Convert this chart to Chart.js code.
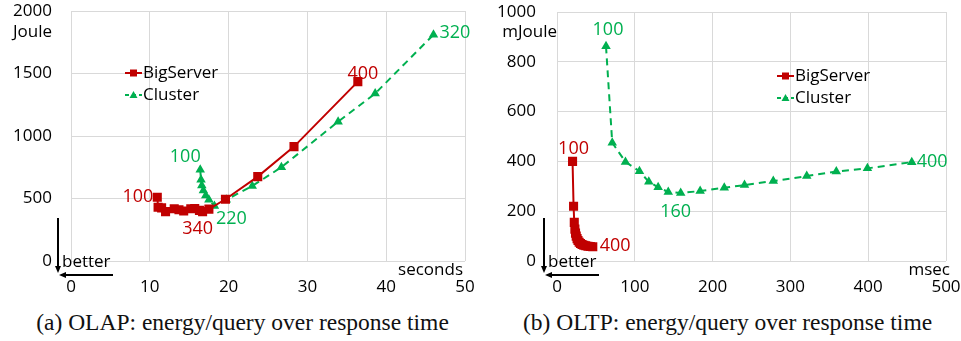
<!DOCTYPE html>
<html>
<head>
<meta charset="utf-8">
<script src="https://cdn.jsdelivr.net/npm/chart.js@4.4.1/dist/chart.umd.min.js"></script>
<style>
  body { margin: 0; background: #fff; width: 961px; height: 341px; position: relative; overflow: hidden; }
  canvas { position: absolute; top: 0; }
  #olap { left: 0; }
  #oltp { left: 480px; }
  .cap { position: absolute; top: 309px; height: 28px; text-align: center; white-space: nowrap;
         font-family: "Liberation Serif", "Times New Roman", serif; font-size: 23.5px; color: #111; }
</style>
</head>
<body>
<canvas id="olap" width="480" height="300"></canvas>
<canvas id="oltp" width="481" height="300"></canvas>
<div class="cap" style="left:0px;width:485px">(a) OLAP: energy/query over response time</div>
<div class="cap" style="left:485px;width:485px">(b) OLTP: energy/query over response time</div>
<script>
// (a) OLAP, seconds / Joule
const olapServerTime   = [10.95, 11.05, 11.5, 12.0, 13.1, 13.7, 14.3, 15.2, 15.7, 16.3, 16.7, 17.5, 19.6, 23.7, 28.3, 36.4];
const olapServerEnergy = [510, 430, 425, 395, 418, 410, 400, 418, 420, 405, 395, 415, 494, 675, 915, 1435];
const olapClusterTime   = [16.4, 16.5, 16.6, 16.8, 17.1, 17.5, 18.2, 19.7, 23.0, 26.7, 33.9, 38.6, 46.0];
const olapClusterEnergy = [730, 650, 605, 565, 525, 490, 440, 490, 600, 750, 1115, 1340, 1810];

// (b) OLTP, msec / mJoule
const oltpServerTime   = [20.0, 21.3, 22.2, 23.0, 23.8, 24.7, 25.8, 27.0, 28.5, 30.2, 32.2, 34.5, 37.0, 39.8, 42.8, 46.0];
const oltpServerEnergy = [400, 220, 155, 128, 112, 100, 90, 82, 75, 70, 66, 63, 61, 59, 58, 57];
const oltpClusterTime   = [63, 71, 88, 106, 118, 130, 143, 159, 184, 215, 241, 278, 321, 359, 399, 456];
const oltpClusterEnergy = [862, 475, 398, 360, 318, 296, 277, 273, 281, 294, 305, 321, 341, 359, 372, 397];

const seriesNames = ["BigServer", "Cluster"];
const olapXTicks = [0, 10, 20, 30, 40, 50];
const olapYTicks = [0, 500, 1000, 1500, 2000];
const oltpXTicks = [0, 100, 200, 300, 400, 500];
const oltpYTicks = [0, 200, 400, 600, 800, 1000];

const RED = "#C00000", GREEN = "#00B050";
const FONT = '"Open Sans", "Liberation Sans", sans-serif';

const pts = (xs, ys) => xs.map((x, i) => ({ x: x, y: ys[i] }));

function serverSet(xs, ys) {
    return {
        label: seriesNames[0], data: pts(xs, ys),
        borderColor: RED, backgroundColor: RED, borderWidth: 2,
        pointStyle: "rect", pointRadius: 5, showLine: true, tension: 0
    };
}
function clusterSet(xs, ys) {
    return {
        label: seriesNames[1], data: pts(xs, ys),
        borderColor: GREEN, backgroundColor: GREEN, borderWidth: 2, borderDash: [7, 5],
        pointStyle: "triangle", pointRadius: 3.5, showLine: true, tension: 0
    };
}

function marker(ctx, style, x, y, color) {
    ctx.fillStyle = color;
    ctx.beginPath();
    if (style === "rect") {
        ctx.rect(x - 3.5, y - 3.5, 7, 7);
    } else {
        ctx.moveTo(x, y - 4); ctx.lineTo(x + 4, y + 3); ctx.lineTo(x - 4, y + 3);
        ctx.closePath();
    }
    ctx.fill();
}

// units, legend, point labels and the "better" arrows
const decor = {
    id: "decor",
    afterDatasetsDraw(chart, args, o) {
        const ctx = chart.ctx, a = chart.chartArea;
        ctx.save();
        ctx.font = "17px " + FONT;
        ctx.textBaseline = "middle";
        ctx.fillStyle = "#000";

        ctx.textAlign = "right";
        ctx.fillText(o.yUnit, a.left + o.yUnitDx, 32);
        ctx.fillText(o.xUnit, a.right + o.xUnitDx, a.bottom + 9);

        // better arrows
        ctx.textAlign = "left";
        ctx.fillText("better", a.left - 9, a.bottom + 1);
        ctx.strokeStyle = "#000";
        ctx.lineWidth = 2;
        const vx = a.left - 13, hy = a.bottom + 14;
        ctx.beginPath();
        ctx.moveTo(vx, a.bottom - 43); ctx.lineTo(vx, a.bottom + 8);
        ctx.moveTo(a.left + 42, hy); ctx.lineTo(a.left - 8, hy);
        ctx.stroke();
        ctx.fillStyle = "#000";
        ctx.beginPath();
        ctx.moveTo(vx, a.bottom + 12); ctx.lineTo(vx - 3, a.bottom + 5); ctx.lineTo(vx + 3, a.bottom + 5);
        ctx.closePath(); ctx.fill();
        ctx.beginPath();
        ctx.moveTo(a.left - 12, hy); ctx.lineTo(a.left - 5, hy - 3); ctx.lineTo(a.left - 5, hy + 3);
        ctx.closePath(); ctx.fill();

        // legend
        chart.data.datasets.forEach((ds, k) => {
            const y = o.legend.y + k * 22, x = o.legend.x;
            ctx.strokeStyle = ds.borderColor;
            ctx.lineWidth = 2;
            ctx.setLineDash(ds.borderDash ? [4, 3] : []);
            ctx.beginPath(); ctx.moveTo(x, y); ctx.lineTo(x + 17, y); ctx.stroke();
            ctx.setLineDash([]);
            marker(ctx, ds.pointStyle, x + 8.5, y, ds.borderColor);
            ctx.fillStyle = "#000";
            ctx.textAlign = "left";
            ctx.fillText(ds.label, x + 18, y);
        });

        // point labels
        ctx.font = "18px " + FONT;
        o.labels.forEach(l => {
            const ds = chart.data.datasets[l.ds];
            const p = chart.getDatasetMeta(l.ds).data[l.i];
            ctx.fillStyle = ds.borderColor;
            ctx.textAlign = l.align || "center";
            ctx.fillText(l.text, p.x + l.dx, p.y + l.dy);
        });
        ctx.restore();
    }
};

function makeChart(id, datasets, xTicks, yTicks, yWidth, yPad, top, extra) {
    const axisFont = { family: FONT, size: 17 };
    return new Chart(document.getElementById(id), {
        type: "scatter",
        data: { datasets: datasets },
        options: {
            responsive: false,
            animation: false,
            layout: { padding: { top: top, right: 15, left: 0, bottom: 0 } },
            plugins: { legend: { display: false }, tooltip: { enabled: false }, decor: extra },
            scales: {
                x: {
                    type: "linear", min: xTicks[0], max: xTicks[xTicks.length - 1],
                    ticks: { stepSize: xTicks[1] - xTicks[0], color: "#000", font: axisFont, padding: 16,
                             callback: v => String(v) },
                    grid: { color: "#d9d9d9", drawTicks: false },
                    border: { display: false },
                    afterFit: s => { s.height = 39; s.paddingLeft = 0; s.paddingRight = 0; }
                },
                y: {
                    type: "linear", min: yTicks[0], max: yTicks[yTicks.length - 1],
                    ticks: { stepSize: yTicks[1] - yTicks[0], color: "#000", font: axisFont, padding: yPad,
                             callback: v => String(v) },
                    grid: { color: "#d9d9d9", drawTicks: false },
                    border: { display: false },
                    afterFit: s => { s.width = yWidth; s.paddingTop = 0; s.paddingBottom = 0; }
                }
            }
        },
        plugins: [decor]
    });
}

makeChart("olap",
    [serverSet(olapServerTime, olapServerEnergy), clusterSet(olapClusterTime, olapClusterEnergy)],
    olapXTicks, olapYTicks, 71, 19, 11,
    {
        yUnit: "Joule", yUnitDx: -19, xUnit: "seconds", xUnitDx: -2,
        legend: { x: 125, y: 73 },
        labels: [
            { ds: 0, i: 0, text: "100", dx: -4, dy: 0, align: "right" },
            { ds: 0, i: 10, text: "340", dx: -5, dy: 17 },
            { ds: 0, i: 15, text: "400", dx: 5, dy: -8 },
            { ds: 1, i: 0, text: "100", dx: -15, dy: -13 },
            { ds: 1, i: 6, text: "220", dx: 17, dy: 13 },
            { ds: 1, i: 12, text: "320", dx: 6, dy: -2, align: "left" }
        ]
    });

makeChart("oltp",
    [serverSet(oltpServerTime, oltpServerEnergy), clusterSet(oltpClusterTime, oltpClusterEnergy)],
    oltpXTicks, oltpYTicks, 77, 21, 12,
    {
        yUnit: "mJoule", yUnitDx: 0, xUnit: "msec", xUnitDx: 4,
        legend: { x: 297, y: 76 },
        labels: [
            { ds: 0, i: 0, text: "100", dx: 1, dy: -13 },
            { ds: 0, i: 15, text: "400", dx: 7, dy: -1, align: "left" },
            { ds: 1, i: 0, text: "100", dx: 2, dy: -16 },
            { ds: 1, i: 7, text: "160", dx: -5, dy: 19 },
            { ds: 1, i: 15, text: "400", dx: 5, dy: 0, align: "left" }
        ]
    });
</script>
</body>
</html>
